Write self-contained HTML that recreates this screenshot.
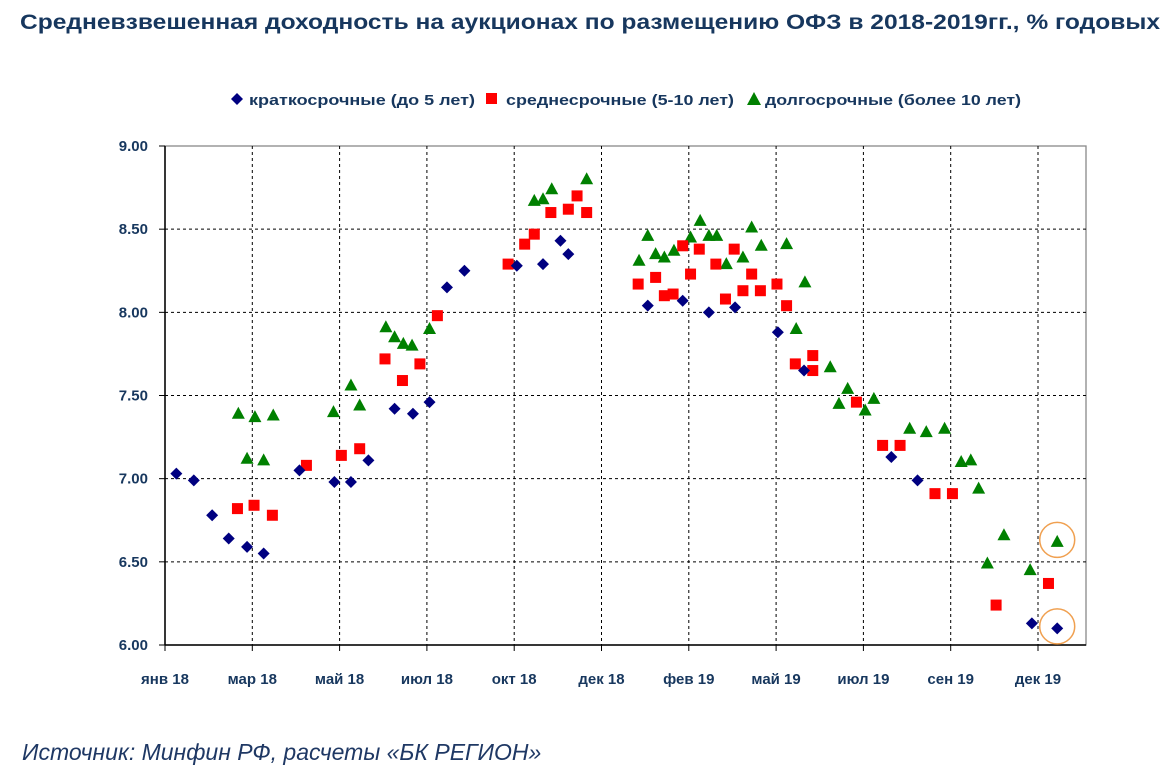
<!DOCTYPE html>
<html><head><meta charset="utf-8"><style>
html,body{margin:0;padding:0;background:#fff;}
svg{display:block;font-family:"Liberation Sans",sans-serif;}
</style></head><body>
<svg id="chart" width="1176" height="782" viewBox="0 0 1176 782">
<text x="20" y="29" font-size="21" font-weight="bold" fill="#17375E" textLength="1140" lengthAdjust="spacingAndGlyphs">Средневзвешенная доходность на аукционах по размещению ОФЗ в 2018-2019гг., % годовых</text>
<g id="legend">
<g><path d="M237 93 L243 99 L237 105 L231 99Z" fill="#000080"/><text x="249" y="105" font-size="15" font-weight="bold" fill="#17375E" textLength="226" lengthAdjust="spacingAndGlyphs">краткосрочные (до 5 лет)</text></g>
<g><rect x="486" y="93" width="11" height="11" fill="#FF0000"/><text x="506" y="105" font-size="15" font-weight="bold" fill="#17375E" textLength="228" lengthAdjust="spacingAndGlyphs">среднесрочные (5-10 лет)</text></g>
<g><path d="M754 92 L761 105 L747 105Z" fill="#008000"/><text x="765" y="105" font-size="15" font-weight="bold" fill="#17375E" textLength="256" lengthAdjust="spacingAndGlyphs">долгосрочные (более 10 лет)</text></g>
</g>
<g id="grid"></g>
<g id="axes"></g>
<g id="marks"></g>
<text x="22" y="760" font-size="23" font-style="italic" fill="#1F3864">Источник: Минфин РФ, расчеты «БК РЕГИОН»</text>
</svg>
<script>
// x in tick units (0 = янв 18), y in % yield
const xTickLabels = ["янв 18","мар 18","май 18","июл 18","окт 18","дек 18","фев 19","май 19","июл 19","сен 19","дек 19"];
const yTicks = [6.0,6.5,7.0,7.5,8.0,8.5,9.0];
const shortX = [0.13,0.33,0.54,0.73,0.94,1.13,1.54,1.94,2.13,2.33,2.63,2.84,3.03,3.23,3.43,4.03,4.33,4.53,4.62,5.53,5.93,6.23,6.53,7.02,7.32,8.32,8.62,9.93,10.22];
const shortY = [7.03,6.99,6.78,6.64,6.59,6.55,7.05,6.98,6.98,7.11,7.42,7.39,7.46,8.15,8.25,8.28,8.29,8.43,8.35,8.04,8.07,8.00,8.03,7.88,7.65,7.13,6.99,6.13,6.10];
const midX = [0.83,1.02,1.23,1.62,2.02,2.23,2.52,2.72,2.92,3.12,3.93,4.12,4.23,4.42,4.62,4.72,4.83,5.42,5.62,5.72,5.82,5.93,6.02,6.12,6.31,6.42,6.52,6.62,6.72,6.82,7.01,7.12,7.22,7.42,7.42,7.92,8.22,8.42,8.82,9.02,9.52,10.12];
const midY = [6.82,6.84,6.78,7.08,7.14,7.18,7.72,7.59,7.69,7.98,8.29,8.41,8.47,8.60,8.62,8.70,8.60,8.17,8.21,8.10,8.11,8.40,8.23,8.38,8.29,8.08,8.38,8.13,8.23,8.13,8.17,8.04,7.69,7.74,7.65,7.46,7.20,7.20,6.91,6.91,6.24,6.37];
const longX = [0.84,1.03,1.24,0.94,1.13,1.93,2.13,2.23,2.53,2.63,2.73,2.83,3.03,4.23,4.33,4.43,4.83,5.43,5.53,5.62,5.72,5.83,6.02,6.13,6.23,6.32,6.43,6.62,6.72,6.83,7.12,7.33,7.23,7.62,7.82,7.72,8.12,8.02,8.53,8.72,8.93,9.12,9.23,9.32,9.61,9.42,9.91,10.22];
const longY = [7.39,7.37,7.38,7.12,7.11,7.40,7.56,7.44,7.91,7.85,7.81,7.80,7.90,8.67,8.68,8.74,8.80,8.31,8.46,8.35,8.33,8.37,8.45,8.55,8.46,8.46,8.29,8.33,8.51,8.40,8.41,8.18,7.90,7.67,7.54,7.45,7.48,7.41,7.30,7.28,7.30,7.10,7.11,6.94,6.66,6.49,6.45,6.62];
const circled = [[10.22,6.62],[10.22,6.10]];

const NS="http://www.w3.org/2000/svg";
const L=165,R=1086,T=146,B=645;
const xs=v=>L+v*87.3;
const ys=v=>T+(9-v)*(B-T)/3;
function mk(tag,attrs,parent){const e=document.createElementNS(NS,tag);for(const k in attrs)e.setAttribute(k,attrs[k]);parent.appendChild(e);return e;}
const grid=document.getElementById('grid'),axes=document.getElementById('axes'),marks=document.getElementById('marks');
mk('rect',{x:L,y:T,width:R-L,height:B-T,fill:'none',stroke:'#888','stroke-width':1.3},grid);
yTicks.forEach(v=>{
  if(v>6&&v<9){const g=mk('line',{x1:L,x2:R,y1:ys(v),y2:ys(v),stroke:'#000','stroke-dasharray':'3,3','stroke-width':1},grid);
  
  }
  mk('line',{x1:L-6,x2:L,y1:ys(v),y2:ys(v),stroke:'#000'},axes);
  const t=mk('text',{x:L-17,y:ys(v)+5,'text-anchor':'end','font-size':15,'font-weight':'bold',fill:'#17375E'},axes);
  t.textContent=v.toFixed(2);
  
  
});
xTickLabels.forEach((lab,i)=>{
  const x=xs(i);
  if(i>0){const g=mk('line',{x1:x,x2:x,y1:T,y2:B,stroke:'#000','stroke-dasharray':'3,3','stroke-width':1},grid);
  
  }
  mk('line',{x1:x,x2:x,y1:B,y2:B+6,stroke:'#000'},axes);
  const t=mk('text',{x:x,y:B+39,'text-anchor':'middle','font-size':15,'font-weight':'bold',fill:'#17375E'},axes);
  t.textContent=lab;
  
  
});
mk('line',{x1:L,x2:L,y1:T,y2:B,stroke:'#000','stroke-width':1.5},axes);
mk('line',{x1:L,x2:R,y1:B,y2:B,stroke:'#000','stroke-width':1.5},axes);
longX.forEach((x,i)=>{const cx=xs(x),cy=ys(longY[i]);
  const p=mk('path',{d:`M${cx} ${cy-7} L${cx+6.5} ${cy+5} L${cx-6.5} ${cy+5}Z`,fill:'#008000'},marks);
  
  });
midX.forEach((x,i)=>{const cx=xs(x),cy=ys(midY[i]);
  const p=mk('rect',{x:cx-5.5,y:cy-5.5,width:11,height:11,fill:'#FF0000'},marks);
  
  });
shortX.forEach((x,i)=>{const cx=xs(x),cy=ys(shortY[i]);
  const p=mk('path',{d:`M${cx} ${cy-6} L${cx+6} ${cy} L${cx} ${cy+6} L${cx-6} ${cy}Z`,fill:'#000080'},marks);
  
  });
circled.forEach(c=>{
  const e=mk('circle',{cx:xs(c[0]),cy:ys(c[1])-2,r:17.5,fill:'none',stroke:'#F0A050','stroke-width':1.5},marks);
  
  });
</script>
</body></html>
